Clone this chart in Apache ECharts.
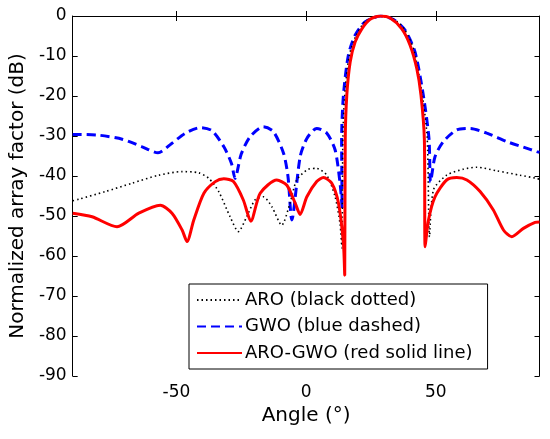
<!DOCTYPE html>
<html>
<head>
<meta charset="utf-8">
<script src="https://cdn.jsdelivr.net/npm/echarts@6/dist/echarts.min.js"></script>
<style>
html, body { margin: 0; padding: 0; background: #fff; }
#chart { width: 550px; height: 439px; }
</style>
</head>
<body>
<div id="chart"></div>
<script>
var xTicks = [-50, 0, 50];

// ARO (black dotted)
var aroAngle = [-90, -87.6, -77.4, -67.1, -56.8, -47.8, -41.4, -37.5, -33.7, -29.3, -26.1, -22.9, -19.7, -16.5, -13.2, -9.4, -6.2, -3.6, 0.9, 4.1, 8, 11.2, 13.1, 13.8, 14.2, 14.9, 16.6, 19.2, 22.9, 28.8, 34, 38, 41.6, 44.8, 46.7, 47.6, 49.1, 54.2, 60.6, 65.8, 73.5, 82.5, 88.9, 90];
var aroDb = [-46.2, -45.8, -43.9, -41.8, -39.8, -38.9, -39.2, -40.6, -43.9, -50.2, -53.9, -50.2, -46, -45.2, -47.7, -52.3, -46.8, -41, -38.3, -38.1, -39.8, -45.2, -52, -58, -30, -19.8, -10, -5, -1.3, 0, -0.9, -3.4, -8.6, -19.8, -30.5, -55.2, -43.5, -39.8, -38.3, -37.8, -38.7, -39.8, -40.6, -40.8];

// GWO (blue dashed)
var gwoAngle = [-90, -88.9, -79.9, -70.9, -63.2, -57.1, -51.7, -46.5, -40.7, -36.2, -31.7, -28.8, -27.4, -25, -21.6, -16.5, -12.6, -8.7, -7, -5.5, -2.3, 0.3, 4.1, 8, 11.2, 13.1, 13.9, 13.7, 14.4, 16.3, 18.9, 22.7, 28.8, 34, 38.2, 42, 45.2, 47.4, 48, 49.7, 52.9, 58.1, 63.2, 69.7, 77.4, 83.8, 88.9, 90];
var gwoDb = [-29.6, -29.6, -29.8, -30.8, -32.7, -34.2, -31.8, -29.3, -27.9, -28.7, -32.7, -36.8, -40.6, -34.5, -30.2, -27.7, -28.9, -34.3, -40, -51, -35.2, -30.6, -28.1, -29.3, -33.5, -41.8, -48, -30.7, -19.8, -9.8, -4.8, -1.5, 0, -1, -3.6, -9, -19.8, -30.7, -41.5, -35.2, -31.4, -28.5, -28.1, -29.3, -31.4, -32.8, -33.9, -34.1];

// ARO-GWO (red solid line)
var hybAngle = [-90, -82.5, -72.9, -64.5, -56.2, -51.7, -47.8, -45.9, -43.3, -39.4, -35, -31.7, -28, -24.2, -21.3, -17.7, -11.3, -7.4, -4.2, -2.3, 0.3, 4.1, 6.7, 9.9, 12.5, 14.4, 14.9, 15.1, 15.7, 17, 18.9, 21.5, 24.7, 28.7, 32.4, 36.9, 40.1, 42.7, 44.3, 45.6, 45.9, 47.2, 49.7, 54.2, 58.1, 62, 67.1, 72.2, 76.1, 79.3, 83.8, 88.3, 90];
var hybDb = [-49.3, -50.2, -52.7, -49.3, -47.3, -49.3, -53.5, -56.4, -51, -44.3, -41.4, -40.7, -41.4, -46, -51.3, -44.3, -41, -42.3, -46.8, -49.6, -45.2, -41.4, -40.4, -41.8, -46.8, -56.8, -64.8, -30.7, -19.8, -11.5, -6.5, -3.2, -0.8, 0, -0.5, -3.2, -7.3, -13.2, -19.8, -30.7, -57.7, -51, -45.2, -41, -40.4, -41, -43.9, -48.5, -53.5, -55.2, -53.1, -51.6, -51.5];

function pairs(a, b){
    var out = [];
    for (var i = 0; i < a.length; i++) out.push([a[i], b[i]]);
    return out;
}

var chart = echarts.init(document.getElementById('chart'));
var font = 'DejaVu Sans, sans-serif';

chart.setOption({
    animation: false,
    backgroundColor: '#fff',
    grid: { left: 72.5, right: 10.5, top: 16, bottom: 63 },
    legend: {
        orient: 'vertical',
        left: 189,
        top: 284,
        padding: [7, 15, 7, 7],
        itemGap: 8.5,
        itemWidth: 45,
        itemHeight: 18,
        borderColor: '#000',
        borderWidth: 1,
        borderRadius: 0,
        backgroundColor: '#fff',
        itemStyle: { opacity: 0 },
        textStyle: { fontFamily: font, fontSize: 18, color: '#000', padding: [0, 0, 0, -2] },
        data: ['ARO (black dotted)', 'GWO (blue dashed)', 'ARO-GWO (red solid line)']
    },
    xAxis: [{
        type: 'value',
        min: -90, max: 90,
        name: 'Angle (°)',
        nameLocation: 'middle',
        nameGap: 28,
        nameTextStyle: { fontFamily: font, fontSize: 20, color: '#000' },
        axisLine: { lineStyle: { color: '#000', width: 1 } },
        axisTick: { inside: true, length: 5, customValues: xTicks, lineStyle: { color: '#000' } },
        axisLabel: { customValues: xTicks, fontFamily: font, fontSize: 17, color: '#000', margin: 8 },
        splitLine: { show: false }
    }, {
        type: 'value',
        position: 'top',
        min: -90, max: 90,
        axisLine: { onZero: false, lineStyle: { color: '#000', width: 1 } },
        axisTick: { inside: true, length: 5, customValues: xTicks, lineStyle: { color: '#000' } },
        axisLabel: { show: false },
        splitLine: { show: false }
    }],
    yAxis: [{
        type: 'value',
        min: -90, max: 0, interval: 10,
        name: 'Normalized array factor (dB)',
        nameLocation: 'middle',
        nameGap: 44,
        nameTextStyle: { fontFamily: font, fontSize: 20, color: '#000' },
        axisLine: { show: true, onZero: false, lineStyle: { color: '#000', width: 1 } },
        axisTick: { show: true, inside: true, length: 5, lineStyle: { color: '#000' } },
        axisLabel: { fontFamily: font, fontSize: 17, color: '#000', margin: 6 },
        splitLine: { show: false }
    }, {
        type: 'value',
        position: 'right',
        min: -90, max: 0, interval: 10,
        axisLine: { show: true, onZero: false, lineStyle: { color: '#000', width: 1 } },
        axisTick: { show: true, inside: true, length: 5, lineStyle: { color: '#000' } },
        axisLabel: { show: false },
        splitLine: { show: false }
    }],
    series: [{
        name: 'ARO (black dotted)',
        type: 'line',
        showSymbol: false,
        symbol: 'none',
        smooth: 0.25,
        data: pairs(aroAngle, aroDb),
        lineStyle: { color: '#000', width: 1.6, type: [1.5, 3] },
        itemStyle: { color: '#000' },
        z: 3
    }, {
        name: 'GWO (blue dashed)',
        type: 'line',
        showSymbol: false,
        symbol: 'none',
        smooth: 0.25,
        data: pairs(gwoAngle, gwoDb),
        lineStyle: { color: '#0000ff', width: 3, type: [9, 5] },
        itemStyle: { color: '#0000ff' },
        z: 2
    }, {
        name: 'ARO-GWO (red solid line)',
        type: 'line',
        showSymbol: false,
        symbol: 'none',
        smooth: 0.25,
        data: pairs(hybAngle, hybDb),
        lineStyle: { color: '#ff0000', width: 3 },
        itemStyle: { color: '#ff0000' },
        z: 4
    }]
});
</script>
</body>
</html>
